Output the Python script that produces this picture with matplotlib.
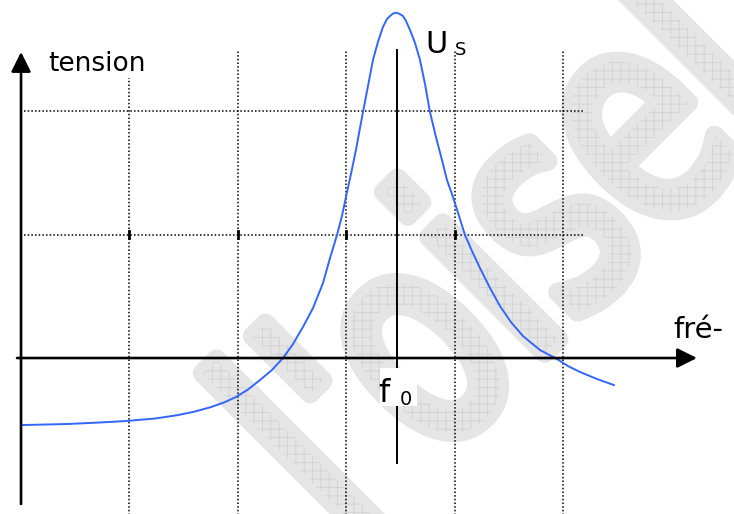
import numpy as np
import matplotlib.pyplot as plt
from matplotlib.patches import PathPatch, Rectangle
from matplotlib.textpath import TextPath
from matplotlib.font_manager import FontProperties
from matplotlib.transforms import Affine2D

# Resonance curve read in grid units (x: one grid step, y: one grid step)
freq = [0.0, 0.434, 0.729, 0.969, 1.236, 1.448, 1.605, 1.753, 1.873, 1.983,
        2.094, 2.205, 2.315, 2.417, 2.509, 2.601, 2.694, 2.786, 2.851, 2.915,
        2.961, 2.998, 3.044, 3.090, 3.127, 3.155, 3.201, 3.247, 3.293, 3.339,
        3.376, 3.404, 3.432, 3.459, 3.487, 3.524, 3.552, 3.589, 3.635, 3.681,
        3.727, 3.773, 3.828, 3.884, 3.930, 3.985, 4.041, 4.096, 4.161, 4.234,
        4.327, 4.419, 4.520, 4.631, 4.788, 4.945, 5.046, 5.157, 5.314, 5.470]
tension = [-0.543, -0.534, -0.522, -0.510, -0.490, -0.462, -0.433, -0.397,
           -0.360, -0.316, -0.255, -0.178, -0.097, 0.0, 0.113, 0.251, 0.405,
           0.607, 0.810, 0.996, 1.150, 1.304, 1.490, 1.684, 1.862, 1.992,
           2.202, 2.413, 2.559, 2.680, 2.745, 2.769, 2.789, 2.796, 2.789,
           2.769, 2.729, 2.656, 2.551, 2.413, 2.219, 1.992, 1.790, 1.603,
           1.441, 1.304, 1.150, 0.996, 0.866, 0.729, 0.567, 0.421, 0.291,
           0.178, 0.065, -0.008, -0.065, -0.113, -0.170, -0.219]

f0 = 3.469
grid_x = [1, 2, 3, 4, 5]
grid_y = [1, 2]
tick_x = [1, 2, 3, 4]

W, H = 734, 514
fig = plt.figure(figsize=(W / 100, H / 100), dpi=100)
ax = fig.add_axes([0, 0, 1, 1])
ax.set_xlim(-0.194, 6.578)
ax.set_ylim(-1.263, 2.899)
ax.axis('off')

# grey hatched watermark text, built in pixel space then mapped to the figure
plt.rcParams['hatch.linewidth'] = 0.7
tp = TextPath((0, 0), "l'oisel", size=1,
              prop=FontProperties(family='DejaVu Sans'))
to_fig = (Affine2D().scale(220, 300).rotate_deg(45).translate(349, -35)
          + Affine2D().scale(1 / W, 1 / H) + fig.transFigure)
ax.add_patch(PathPatch(tp, transform=to_fig, facecolor='#e5e5e5',
                       edgecolor='#e5e5e5', lw=14, joinstyle='round',
                       capstyle='round', zorder=0))
ax.add_patch(PathPatch(tp, transform=to_fig, facecolor='none',
                       edgecolor='#d4d4d4', lw=0, hatch='++', zorder=0.1))

# dotted grid
dots = (0, (1, 1.4))
for gx in grid_x:
    top = 2.267 if gx == 1 else 2.494
    ax.plot([gx, gx], [-1.27, top], color='k', lw=1.1, ls=dots, zorder=1)
for gy in grid_y:
    ax.plot([0.03, 5.185], [gy, gy], color='k', lw=1.1, ls=dots, zorder=1)
for tx in tick_x:
    ax.plot([tx, tx], [0.97, 1.03], color='k', lw=2, zorder=1)

# curve
ax.plot(freq, tension, color='#3366ff', lw=1.4, zorder=2)

# axes with arrow heads
arrow = dict(arrowstyle='-|>,head_length=0.4,head_width=0.2', color='k',
             lw=1.9, mutation_scale=30, shrinkA=0, shrinkB=0)
ax.annotate('', xy=(6.236, 0), xytext=(-0.037, 0), arrowprops=arrow, zorder=3)
ax.annotate('', xy=(0, 2.478), xytext=(0, -1.182), arrowprops=arrow, zorder=3)

# resonance frequency marker
ax.plot([f0, f0], [-0.85, 2.494], color='k', lw=1.4, zorder=3)
ax.add_patch(Rectangle((3.312, -0.389), 0.341, 0.308, facecolor='white',
                       edgecolor='none', zorder=4))

ax.text(0.249, 2.324, 'tension', fontsize=19, va='baseline', zorder=5)
ax.text(6.015, 0.162, 'fré-', fontsize=21, va='baseline', zorder=5)
ax.text(3.73, 2.470, 'U', fontsize=22, va='baseline', zorder=5)
ax.text(4.0, 2.453, 'S', fontsize=13, va='baseline', zorder=5)
ax.text(3.30, -0.356, 'f', fontsize=23, va='baseline', zorder=5)
ax.text(3.49, -0.381, '0', fontsize=14, va='baseline', zorder=5)

fig.savefig('out.png', dpi=100)
